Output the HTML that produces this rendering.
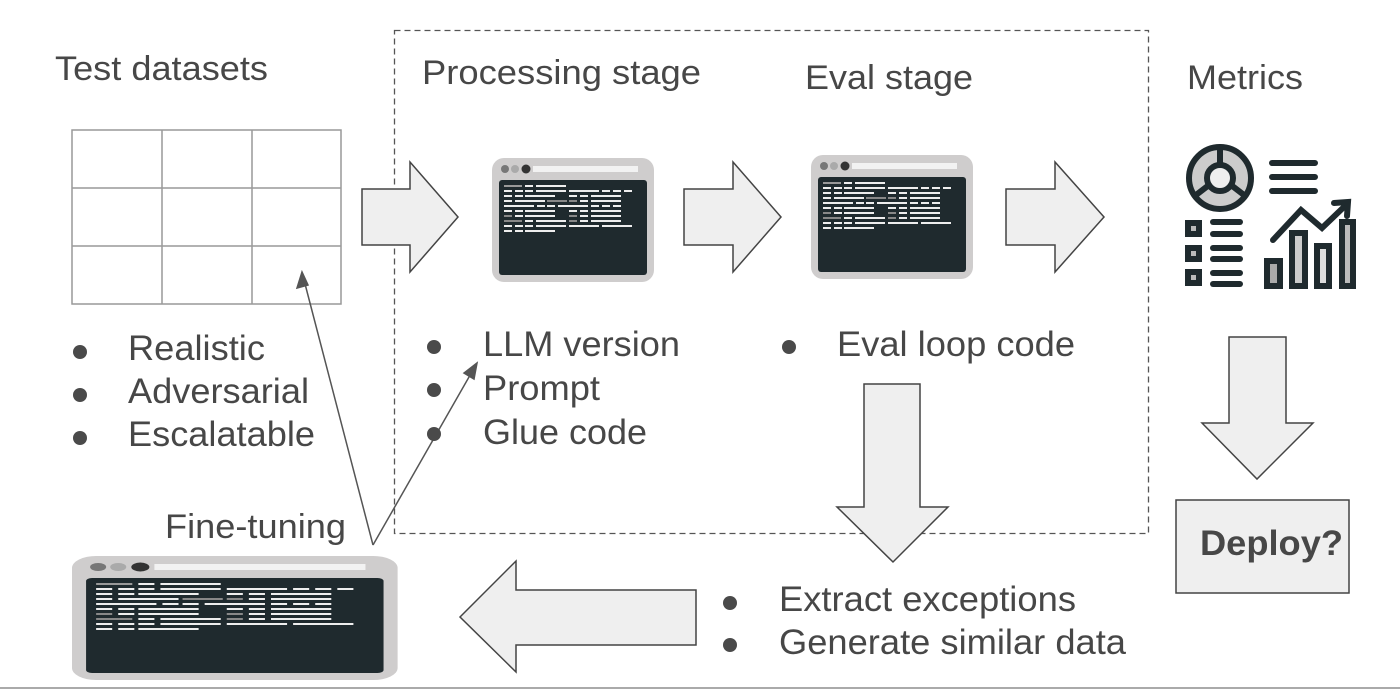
<!DOCTYPE html>
<html><head><meta charset="utf-8"><style>
html,body{margin:0;padding:0;background:#fff;}
svg{display:block;}
text{font-family:"Liberation Sans",Arial,sans-serif;fill:#474747;}
</style></head><body>
<svg width="1400" height="690" viewBox="0 0 1400 690" xmlns="http://www.w3.org/2000/svg">
<defs>
<g id="win">
<rect x="0" y="0" width="162" height="124" rx="12" fill="#cfcdcd"/>
<circle cx="13" cy="11" r="4" fill="#777"/>
<circle cx="23" cy="11" r="4" fill="#aaa"/>
<circle cx="34" cy="11" r="4.5" fill="#333"/>
<rect x="41" y="8" width="105" height="6" fill="#f2f2f2"/>
<rect x="7" y="22" width="148" height="95" rx="3" fill="#1f2a2e"/>
<g fill="#eee">
<rect x="12" y="27" width="18" height="2" fill="#999"/><rect x="33" y="27" width="8" height="2"/><rect x="44" y="27" width="30" height="2"/>
<rect x="12" y="32" width="8" height="2"/><rect x="23" y="32" width="8" height="2"/><rect x="33" y="32" width="8" height="2"/><rect x="44" y="32" width="30" height="2"/><rect x="77" y="32" width="30" height="2"/><rect x="110" y="32" width="8" height="2"/><rect x="121" y="32" width="8" height="2"/><rect x="132" y="32" width="8" height="2"/>
<rect x="12" y="37" width="8" height="2"/><rect x="23" y="37" width="8" height="2"/><rect x="33" y="37" width="30" height="2"/><rect x="77" y="37" width="8" height="2"/><rect x="88" y="37" width="8" height="2"/><rect x="99" y="37" width="30" height="2"/>
<rect x="12" y="42" width="8" height="2"/><rect x="23" y="42" width="30" height="2"/><rect x="55" y="42" width="20" height="2" fill="#888"/><rect x="77" y="42" width="8" height="2" fill="#888"/><rect x="88" y="42" width="8" height="2"/><rect x="99" y="42" width="30" height="2"/>
<rect x="12" y="47" width="30" height="2"/><rect x="45" y="47" width="8" height="2"/><rect x="55" y="47" width="8" height="2"/><rect x="66" y="47" width="30" height="2"/><rect x="99" y="47" width="8" height="2"/><rect x="110" y="47" width="8" height="2"/><rect x="121" y="47" width="8" height="2"/>
<rect x="12" y="52" width="8" height="2"/><rect x="23" y="52" width="8" height="2"/><rect x="33" y="52" width="30" height="2"/><rect x="77" y="52" width="8" height="2"/><rect x="88" y="52" width="8" height="2"/><rect x="99" y="52" width="30" height="2"/>
<rect x="12" y="57" width="8" height="2" fill="#888"/><rect x="23" y="57" width="8" height="2"/><rect x="33" y="57" width="30" height="2"/><rect x="77" y="57" width="8" height="2" fill="#888"/><rect x="88" y="57" width="8" height="2"/><rect x="99" y="57" width="30" height="2"/>
<rect x="12" y="62" width="18" height="2" fill="#888"/><rect x="33" y="62" width="8" height="2"/><rect x="44" y="62" width="30" height="2"/><rect x="77" y="62" width="8" height="2" fill="#888"/><rect x="88" y="62" width="8" height="2"/><rect x="99" y="62" width="30" height="2"/>
<rect x="12" y="67" width="8" height="2"/><rect x="23" y="67" width="8" height="2"/><rect x="33" y="67" width="8" height="2"/><rect x="44" y="67" width="30" height="2"/><rect x="77" y="67" width="30" height="2"/><rect x="110" y="67" width="30" height="2"/>
<rect x="12" y="72" width="8" height="2"/><rect x="23" y="72" width="8" height="2"/><rect x="33" y="72" width="30" height="2"/>
</g>
</g>
</defs>

<rect x="394.5" y="30.5" width="754" height="503" fill="none" stroke="#555" stroke-width="1.3" stroke-dasharray="6,4"/>

<g stroke="#999" stroke-width="1.5" fill="none">
<rect x="72" y="130" width="269" height="174"/>
<line x1="162" y1="130" x2="162" y2="304"/><line x1="252" y1="130" x2="252" y2="304"/>
<line x1="72" y1="188" x2="341" y2="188"/><line x1="72" y1="246" x2="341" y2="246"/>
</g>

<g fill="#efefef" stroke="#444" stroke-width="1.5" stroke-linejoin="miter">
<polygon points="362,189 410,189 410,162 458,217 410,272 410,245 362,245"/>
<polygon points="684,189 733,189 733,162 781,217 733,272 733,245 684,245"/>
<polygon points="1006,189 1055,189 1055,162 1104,217 1055,272 1055,245 1006,245"/>
<polygon points="864,384 920,384 920,507 948,507 893,562 837,507 864,507"/>
<polygon points="1229,337 1286,337 1286,423 1313,423 1257,479 1202,423 1229,423"/>
<polygon points="460,617 516,561 516,590 696,590 696,645 516,645 516,672"/>
<rect x="1176" y="500" width="173" height="93"/>
</g>

<use href="#win" transform="translate(492,158)"/>
<use href="#win" transform="translate(811,155)"/>
<use href="#win" transform="translate(72,556) scale(2.01,1.0)"/>

<g stroke="#1f2a2e" stroke-width="6" fill="none" stroke-linecap="round">
<circle cx="1220" cy="178" r="31" fill="#ccc"/>
<circle cx="1220" cy="178" r="13" fill="#eee"/>
<line x1="1220" y1="165" x2="1220" y2="147"/><line x1="1209" y1="185" x2="1196" y2="195"/><line x1="1231" y1="185" x2="1244" y2="195"/>
<line x1="1272" y1="163" x2="1315" y2="163"/><line x1="1272" y1="177" x2="1315" y2="177"/><line x1="1272" y1="191" x2="1315" y2="191"/>
<rect x="1188" y="223" width="11" height="11" fill="#bbb"/><rect x="1188" y="248" width="11" height="11" fill="#bbb"/><rect x="1188" y="272" width="11" height="11" fill="#bbb"/>
<line x1="1213" y1="222" x2="1240" y2="222"/><line x1="1213" y1="234" x2="1240" y2="234"/>
<line x1="1213" y1="248" x2="1240" y2="248"/><line x1="1213" y1="259" x2="1240" y2="259"/>
<line x1="1213" y1="273" x2="1240" y2="273"/><line x1="1213" y1="284" x2="1240" y2="284"/>
<rect x="1267" y="261" width="13" height="25" fill="#aaa"/>
<rect x="1292" y="233" width="13" height="53" fill="#ccc"/>
<rect x="1317" y="246" width="12" height="40" fill="#ddd"/>
<rect x="1342" y="222" width="11" height="64" fill="#bbb"/>
<polyline points="1273,240 1301,210 1322,228 1346,205"/>
<polyline points="1334,203 1348,202 1347,216"/>
</g>

<g stroke="#555" stroke-width="1.5" fill="#555">
<line x1="373" y1="545" x2="304" y2="280"/>
<polygon points="302,272 297,288 308,285"/>
<line x1="373" y1="545" x2="473" y2="370"/>
<polygon points="477,363 464,373 474,379"/>
</g>

<g font-size="34" lengthAdjust="spacingAndGlyphs">
<text x="55" y="80" textLength="213" lengthAdjust="spacingAndGlyphs">Test datasets</text>
<text x="422" y="84" textLength="279" lengthAdjust="spacingAndGlyphs">Processing stage</text>
<text x="805" y="89" textLength="168" lengthAdjust="spacingAndGlyphs">Eval stage</text>
<text x="1187" y="89" textLength="116" lengthAdjust="spacingAndGlyphs">Metrics</text>
<text x="165" y="538" textLength="181" lengthAdjust="spacingAndGlyphs">Fine-tuning</text>
</g>
<g font-size="35">
<text x="128" y="360" textLength="137" lengthAdjust="spacingAndGlyphs">Realistic</text>
<text x="128" y="403" textLength="181" lengthAdjust="spacingAndGlyphs">Adversarial</text>
<text x="128" y="446" textLength="187" lengthAdjust="spacingAndGlyphs">Escalatable</text>
<text x="483" y="356" textLength="197" lengthAdjust="spacingAndGlyphs">LLM version</text>
<text x="483" y="400" textLength="117" lengthAdjust="spacingAndGlyphs">Prompt</text>
<text x="483" y="444" textLength="164" lengthAdjust="spacingAndGlyphs">Glue code</text>
<text x="837" y="356" textLength="238" lengthAdjust="spacingAndGlyphs">Eval loop code</text>
<text x="779" y="611" textLength="297" lengthAdjust="spacingAndGlyphs">Extract exceptions</text>
<text x="779" y="654" textLength="347" lengthAdjust="spacingAndGlyphs">Generate similar data</text>
</g>
<g fill="#4a4a4a">
<circle cx="80" cy="352" r="7"/><circle cx="80" cy="395" r="7"/><circle cx="80" cy="438" r="7"/>
<circle cx="434" cy="347" r="7"/><circle cx="434" cy="390" r="7"/><circle cx="434" cy="434" r="7"/>
<circle cx="789" cy="347" r="7"/>
<circle cx="730" cy="603" r="7"/><circle cx="730" cy="645" r="7"/>
</g>
<text x="1200" y="555" font-size="35" font-weight="bold" fill="#444" textLength="143" lengthAdjust="spacingAndGlyphs">Deploy?</text>

<line x1="0" y1="688" x2="1400" y2="688" stroke="#aaa" stroke-width="2"/>
</svg>
</body></html>
